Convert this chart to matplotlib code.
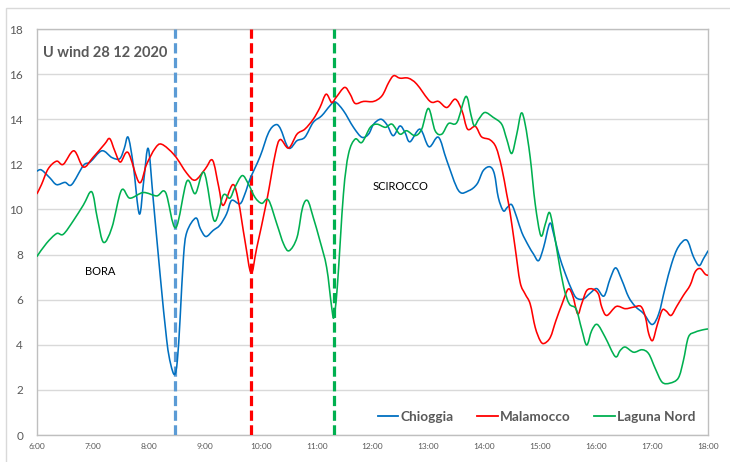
import matplotlib
matplotlib.use("Agg")
import matplotlib.pyplot as plt
from matplotlib.patches import Rectangle, PathPatch
from matplotlib.path import Path
from matplotlib.lines import Line2D

# --- data (hours as decimal, wind U component) ---
chioggia_t = [6.00, 6.08, 6.23, 6.35, 6.50, 6.62, 6.83, 6.95, 7.16, 7.34, 7.48, 7.56, 7.63, 7.72,
              7.83, 7.91, 7.99, 8.08, 8.20, 8.32, 8.39, 8.46, 8.51, 8.56, 8.62, 8.68, 8.84, 8.92,
              9.02, 9.15, 9.27, 9.39, 9.48, 9.63, 9.72, 9.81, 9.99, 10.14, 10.26, 10.35, 10.50,
              10.65, 10.79, 10.94, 11.09, 11.24, 11.33, 11.48, 11.66, 11.81, 11.93, 12.02, 12.15,
              12.26, 12.37, 12.49, 12.58, 12.67, 12.85, 13.01, 13.18, 13.33, 13.54, 13.72, 13.87,
              13.98, 14.10, 14.18, 14.25, 14.34, 14.41, 14.49, 14.58, 14.67, 14.79, 14.88, 14.97,
              15.06, 15.17, 15.24, 15.33, 15.45, 15.57, 15.65, 15.77, 15.89, 16.01, 16.14, 16.25,
              16.35, 16.46, 16.58, 16.70, 16.85, 17.00, 17.12, 17.23, 17.35, 17.47, 17.62, 17.74,
              17.84, 17.92, 18.00]
chioggia_v = [11.70, 11.75, 11.40, 11.10, 11.20, 11.10, 11.95, 12.10, 12.60, 12.30, 12.25, 12.70,
              13.20, 12.00, 9.80, 11.30, 12.70, 10.40, 7.15, 4.20, 3.15, 2.68, 3.30, 5.20, 7.90,
              9.00, 9.62, 9.15, 8.80, 9.07, 9.30, 9.80, 10.40, 10.25, 10.70, 11.35, 12.35, 13.40,
              13.75, 13.60, 12.72, 13.05, 13.20, 13.86, 14.15, 14.60, 14.77, 14.38, 13.64, 13.20,
              13.34, 13.78, 14.00, 13.75, 13.27, 13.70, 13.42, 13.00, 13.56, 12.78, 13.20, 12.16,
              10.83, 10.83, 11.13, 11.72, 11.89, 11.57, 10.53, 9.94, 10.09, 10.21, 9.65, 8.98,
              8.39, 8.02, 7.73, 8.32, 9.38, 8.91, 8.02, 7.14, 6.40, 6.07, 6.03, 6.28, 6.49, 6.16,
              6.93, 7.41, 6.86, 6.12, 5.70, 5.38, 4.90, 5.38, 6.49, 7.60, 8.34, 8.64, 7.90, 7.51,
              7.82, 8.16]

malamocco_t = [6.00, 6.08, 6.20, 6.35, 6.47, 6.66, 6.83, 7.00, 7.21, 7.30, 7.39, 7.49, 7.63, 7.83,
               7.96, 8.11, 8.23, 8.46, 8.68, 8.83, 9.01, 9.14, 9.25, 9.33, 9.50, 9.60, 9.72, 9.83,
               9.93, 10.11, 10.26, 10.35, 10.50, 10.65, 10.79, 10.94, 11.06, 11.17, 11.27, 11.35,
               11.50, 11.60, 11.69, 11.84, 12.02, 12.17, 12.29, 12.38, 12.49, 12.64, 12.79, 13.03,
               13.18, 13.33, 13.48, 13.60, 13.70, 13.84, 13.95, 14.10, 14.21, 14.31, 14.40, 14.46,
               14.55, 14.64, 14.73, 14.82, 14.91, 15.00, 15.07, 15.18, 15.28, 15.39, 15.50, 15.58,
               15.67, 15.74, 15.83, 15.94, 16.04, 16.10, 16.19, 16.36, 16.52, 16.67, 16.80, 16.88,
               16.94, 17.01, 17.09, 17.18, 17.25, 17.34, 17.44, 17.56, 17.68, 17.77, 17.86, 17.95,
               18.00]
malamocco_v = [10.70, 11.10, 11.80, 12.14, 12.00, 12.60, 11.88, 12.30, 12.90, 13.14, 12.60, 12.10,
               12.52, 11.19, 12.00, 12.70, 12.89, 12.40, 11.60, 11.30, 11.80, 12.18, 11.00, 10.18,
               11.10, 10.40, 8.60, 7.18, 8.30, 10.40, 12.45, 13.10, 12.72, 13.34, 13.56, 14.00,
               14.52, 15.11, 14.74, 14.97, 15.41, 15.11, 14.70, 14.79, 14.79, 15.04, 15.63, 15.93,
               15.82, 15.82, 15.56, 14.79, 14.79, 14.52, 14.89, 14.38, 13.56, 13.68, 13.22, 13.09,
               12.75, 11.86, 10.68, 9.87, 8.32, 6.77, 6.25, 5.81, 4.77, 4.18, 4.06, 4.33, 5.07,
               5.81, 6.47, 6.18, 5.37, 5.81, 6.40, 6.47, 6.25, 5.67, 5.30, 5.70, 5.60, 5.67, 5.70,
               5.23, 4.49, 4.19, 4.86, 5.53, 5.50, 5.30, 5.70, 6.19, 6.64, 7.23, 7.38, 7.13, 7.08]

laguna_t = [6.00, 6.17, 6.35, 6.47, 6.65, 6.83, 6.98, 7.08, 7.19, 7.34, 7.51, 7.66, 7.90, 8.14,
            8.30, 8.48, 8.68, 8.83, 8.99, 9.17, 9.33, 9.45, 9.54, 9.67, 9.78, 9.90, 10.02, 10.14,
            10.29, 10.41, 10.51, 10.65, 10.75, 10.84, 10.94, 11.06, 11.18, 11.27, 11.31, 11.37,
            11.48, 11.57, 11.69, 11.81, 11.96, 12.08, 12.23, 12.35, 12.49, 12.61, 12.76, 12.88,
            13.00, 13.12, 13.24, 13.36, 13.51, 13.67, 13.76, 13.82, 13.90, 14.01, 14.16, 14.31,
            14.40, 14.49, 14.58, 14.66, 14.73, 14.82, 14.91, 15.01, 15.09, 15.16, 15.22, 15.31,
            15.42, 15.52, 15.64, 15.74, 15.83, 15.92, 16.02, 16.16, 16.34, 16.43, 16.52, 16.67,
            16.82, 16.94, 17.06, 17.18, 17.32, 17.47, 17.56, 17.65, 17.77, 17.92, 18.00]
laguna_v = [7.92, 8.50, 8.93, 8.90, 9.50, 10.20, 10.78, 9.60, 8.54, 9.20, 10.85, 10.50, 10.75,
            10.60, 10.75, 9.19, 11.25, 10.70, 11.63, 9.49, 10.63, 10.50, 10.98, 11.50, 11.13,
            10.53, 10.27, 10.42, 9.35, 8.47, 8.17, 8.76, 10.09, 10.39, 9.65, 8.61, 7.43, 5.66,
            5.22, 6.55, 10.68, 12.45, 13.12, 12.97, 13.64, 13.78, 13.64, 13.78, 13.34, 13.49,
            13.27, 13.56, 14.48, 13.49, 13.34, 13.81, 13.86, 15.01, 14.20, 13.71, 14.00, 14.30,
            14.08, 13.78, 13.12, 12.48, 13.34, 14.27, 13.78, 12.31, 10.24, 8.84, 9.35, 9.87,
            9.35, 8.02, 6.55, 5.81, 5.59, 4.70, 3.99, 4.63, 4.90, 4.34, 3.48, 3.75, 3.90, 3.67,
            3.78, 3.60, 2.93, 2.34, 2.30, 2.53, 3.30, 4.34, 4.56, 4.67, 4.70]

# event markers (dashed verticals) and annotations
event_times = [8.47, 9.83, 11.31]
event_colors = ["#5B9BD5", "#FF0000", "#00B050"]
hour_ticks = list(range(6, 19))
y_ticks = list(range(0, 19, 2))


def smooth_path(xs, ys):
    """Bezier path through the points, like a spreadsheet 'smoothed line'."""
    pts = list(zip(xs, ys))
    verts = [pts[0]]
    codes = [Path.MOVETO]
    n = len(pts)
    for i in range(n - 1):
        p0 = pts[max(i - 1, 0)]
        p1 = pts[i]
        p2 = pts[i + 1]
        p3 = pts[min(i + 2, n - 1)]
        c1 = (p1[0] + (p2[0] - p0[0]) / 6, p1[1] + (p2[1] - p0[1]) / 6)
        c2 = (p2[0] - (p3[0] - p1[0]) / 6, p2[1] - (p3[1] - p1[1]) / 6)
        verts += [c1, c2, p2]
        codes += [Path.CURVE4] * 3
    return Path(verts, codes)


fig = plt.figure(figsize=(7.30, 4.62), dpi=100)
# light chart-area border like the spreadsheet export
fig.patches.append(Rectangle((6 / 730, -0.1), 1.2, 1 - 8 / 462 + 0.1, transform=fig.transFigure,
                             facecolor="white", edgecolor="#D9D9D9", linewidth=1.0, zorder=-5))
ax = fig.add_axes([37 / 730, 1 - 435 / 462, (708 - 37) / 730, (435 - 29) / 462])

ax.set_xlim(6, 18)
ax.set_ylim(0, 18)
ax.set_yticks(y_ticks)
ax.set_xticks(hour_ticks)
ax.set_xticklabels([f"{h}:00" for h in hour_ticks])
ax.grid(axis="y", color="#D9D9D9", linewidth=1.0)
ax.set_axisbelow(True)
for sp in ax.spines.values():
    sp.set_color("#BFBFBF")
    sp.set_linewidth(1.0)
ax.tick_params(axis="y", length=0, pad=10, labelsize=8.5, labelcolor="#595959")
ax.tick_params(axis="x", length=0, pad=6, labelsize=6, labelcolor="#595959")
for lab in ax.get_xticklabels() + ax.get_yticklabels():
    lab.set_family("Lato")

for t, c in zip(event_times, event_colors):
    ax.axvline(t, color=c, linewidth=2.3, linestyle=(0, (3.2, 1.4)), zorder=3)

series = [
    ("Chioggia", chioggia_t, chioggia_v, "#0070C0"),
    ("Malamocco", malamocco_t, malamocco_v, "#FF0000"),
    ("Laguna Nord", laguna_t, laguna_v, "#00B050"),
]
handles = []
for name, ts, vs, col in series:
    ax.add_patch(PathPatch(smooth_path(ts, vs), fill=False, edgecolor=col, linewidth=1.15,
                           zorder=4, capstyle="round", joinstyle="round"))
    handles.append(Line2D([], [], color=col, linewidth=1.3, label=name))

ax.text(6.11, 16.95, "U wind 28 12 2020", fontsize=10.5, fontweight="bold", color="#595959",
        family="Lato", va="center", ha="left")
ax.text(7.13, 7.23, "BORA", fontsize=8, color="black", family="Lato", ha="center", va="center")
ax.text(12.51, 11.0, "SCIROCCO", fontsize=8, color="black", family="Lato", ha="center", va="center")

leg = ax.legend(handles=handles, loc="lower right", bbox_to_anchor=(1.0, 0.0), ncol=3,
                frameon=False, handlelength=1.5, handletextpad=0.2, columnspacing=1.7,
                prop={"family": "Lato", "weight": "bold", "size": 9.8})
for txt in leg.get_texts():
    txt.set_color("#595959")

fig.savefig("out.png", dpi=100)
